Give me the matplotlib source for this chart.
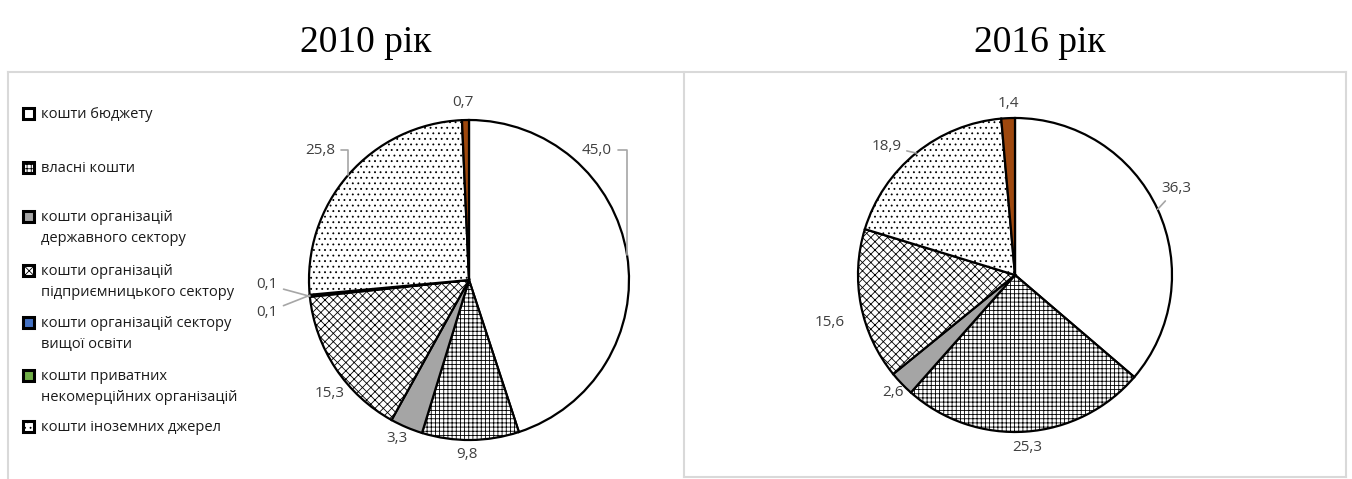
import numpy as np
import matplotlib.pyplot as plt
from matplotlib.patches import Rectangle
from matplotlib.lines import Line2D

plt.rcParams['hatch.linewidth'] = 0.6
plt.rcParams['hatch.color'] = 'black'

# data
categories = ['кошти бюджету', 'власні кошти', 'кошти організацій\nдержавного сектору',
              'кошти організацій\nпідприємницького сектору', 'кошти організацій сектору\nвищої освіти',
              'кошти приватних\nнекомерційних організацій', 'кошти іноземних джерел', 'інші джерела']
share_2010 = [45.0, 9.8, 3.3, 15.3, 0.1, 0.1, 25.8, 0.7]
share_2016 = [36.3, 25.3, 2.6, 15.6, 0.0, 0.0, 18.9, 1.4]
years = ['2010 рік', '2016 рік']

# styles
colors = ['white', 'white', '#a5a5a5', 'white', '#4472c4', '#70ad47', 'white', '#9e480e']
hatches = ['', '++++', '', 'xxxx', '', '', '...', '']

W, H = 1352, 479
fig = plt.figure(figsize=(W / 100, H / 100), dpi=100)

def fx(px):
    return px / W

def fy(py):
    return 1 - py / H

# panel borders
bc = '#d9d9d9'
for xs, ys in [([8, 8], [479, 72]), ([8, 1346], [72, 72]), ([684, 684], [72, 477]),
               ([684, 1346], [477, 477]), ([1346, 1346], [72, 477])]:
    fig.add_artist(Line2D([fx(x) for x in xs], [fy(y) for y in ys], color=bc, lw=1.5))

# label layout (relative to radius); leader: None, 'line' or 'angle'
lab_2010 = [(0.80, 0.81), (-0.01, -1.09), (-0.45, -0.99), (-0.87, -0.71),
            (-1.26, -0.03), (-1.26, -0.20), (-0.93, 0.81), (-0.04, 1.11)]
lead_2010 = ['angle', None, None, None, 'line', 'line', 'angle', None]
lab_2016 = [(1.03, 0.55), (0.08, -1.10), (-0.78, -0.75), (-1.18, -0.30),
            None, None, (-0.82, 0.82), (-0.045, 1.09)]
lead_2016 = ['line', None, None, None, None, None, 'line', None]

panels = [(share_2010, 469, 280, 160, lab_2010, lead_2010, 366),
          (share_2016, 1015, 275, 157, lab_2016, lead_2016, 1040)]

lab_kw = dict(ha='center', va='center', fontsize=11, color='#404040', family='Open Sans')

for (vals, cx, cy, r, labs, leads, tx), year in zip(panels, years):
    ax = fig.add_axes([fx(cx - r), fy(cy + r), 2 * r / W, 2 * r / H])
    idx = [i for i, v in enumerate(vals) if v > 0]
    wedges, _ = ax.pie([vals[i] for i in idx], colors=[colors[i] for i in idx],
                       startangle=90, counterclock=False,
                       wedgeprops=dict(edgecolor='black', linewidth=1.6))
    for w, i in zip(wedges, idx):
        w.set_hatch(hatches[i])
        mid = np.deg2rad((w.theta1 + w.theta2) / 2)
        lx, ly = labs[i]
        txt = f'{vals[i]:.1f}'.replace('.', ',')
        if leads[i] is None:
            ax.text(lx, ly, txt, **lab_kw)
            continue
        cs = 'angle,angleA=0,angleB=90,rad=0' if leads[i] == 'angle' else 'arc3'
        ax.annotate(txt, xy=(np.cos(mid), np.sin(mid)), xytext=(lx, ly),
                    arrowprops=dict(arrowstyle='-', color='#a6a6a6', lw=1.2,
                                    connectionstyle=cs, shrinkA=2, shrinkB=0),
                    **lab_kw)
    ax.set_xlim(-1, 1)
    ax.set_ylim(-1, 1)
    ax.set_aspect('equal')
    ax.axis('off')
    fig.text(fx(tx), fy(52), year, ha='center', va='baseline', fontsize=27,
             family='Liberation Serif')

# legend
leg_y = [113, 167, 216, 270, 322, 375, 426]
for lab, y, c, h in zip(categories[:7], leg_y, colors[:7], hatches[:7]):
    fig.add_artist(Rectangle((fx(23), fy(y + 6)), 11 / W, 11 / H, facecolor=c,
                             edgecolor='black', linewidth=2.2, hatch=h))
    fig.text(fx(41), fy(y - 6), lab, ha='left', va='top', fontsize=10.5,
             family='Open Sans', color='#1a1a1a', linespacing=1.55)

fig.savefig('out.png', dpi=100)
